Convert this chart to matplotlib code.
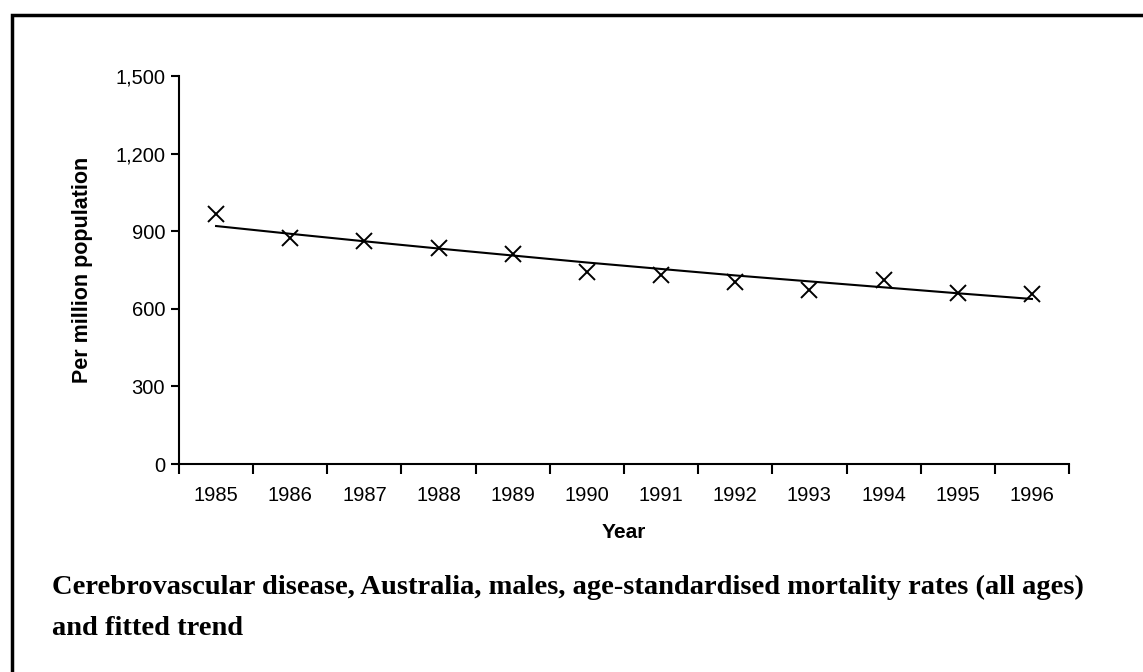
import matplotlib
matplotlib.use("Agg")
import matplotlib.pyplot as plt
from matplotlib.patches import Rectangle
from matplotlib.ticker import FixedLocator, FuncFormatter

plt.rcParams.update({
    "font.family": ["Liberation Sans", "DejaVu Sans"],
    "axes.spines.top": False, "axes.spines.right": False,
})

years = ["1985", "1986", "1987", "1988", "1989", "1990",
         "1991", "1992", "1993", "1994", "1995", "1996"]
rates = [966, 874, 864, 835, 812, 742, 729, 702, 673, 711, 661, 657]
trend = [920, 890, 861, 833, 806, 779, 754, 729, 706, 683, 660, 638]
y_ticks = [0, 300, 600, 900, 1200, 1500]

caption = ("Cerebrovascular disease, Australia, males, age-standardised mortality rates (all ages)\n"
           "and fitted trend")

fig = plt.figure(figsize=(11.43, 6.72), dpi=100)
ax = fig.add_axes([179 / 1143, 1 - 464 / 672, (1069 - 179) / 1143, (464 - 76) / 672])

x = list(range(len(years)))
ax.plot(x, trend, color="black", lw=1.5, zorder=2)
ax.plot(x, rates, ls="none", marker="x", ms=11, mew=1.4, color="black", zorder=3)

ax.set_xlim(-0.5, len(years) - 0.5)
ax.set_ylim(0, 1500)
ax.xaxis.set_major_locator(FixedLocator([i - 0.5 for i in range(len(years) + 1)]))
ax.xaxis.set_major_formatter(FuncFormatter(lambda v, _: ""))
ax.xaxis.set_minor_locator(FixedLocator(x))
ax.set_xticklabels(years, minor=True)
ax.tick_params(axis="x", which="minor", length=0, pad=16, labelsize=14.5)
ax.tick_params(axis="x", which="major", length=7, width=1.5, direction="out")
ax.set_yticks(y_ticks)
ax.yaxis.set_major_formatter(FuncFormatter(lambda v, _: f"{v:,.0f}"))
ax.tick_params(axis="y", length=6, width=1.5, labelsize=14.5, pad=4)
for s in ("left", "bottom"):
    ax.spines[s].set_linewidth(1.5)

ax.set_xlabel("Year", fontweight="bold", fontsize=15, labelpad=13)
ax.set_ylabel("Per million population", fontweight="bold", fontsize=15.5, labelpad=16)

# outer frame (only left/top edges visible in the original crop)
fig.patches.append(Rectangle((12 / 1143, -0.1), 1.2, 1 - 15 / 672 + 0.1, transform=fig.transFigure,
                             fill=False, edgecolor="black", lw=2.5))

fig.text(52 / 1143, 1 - 575 / 672, caption, family=["Liberation Serif", "DejaVu Serif"],
         fontweight="bold", fontsize=20.5, va="top", ha="left", linespacing=1.82)

fig.savefig("out.png", dpi=100)
